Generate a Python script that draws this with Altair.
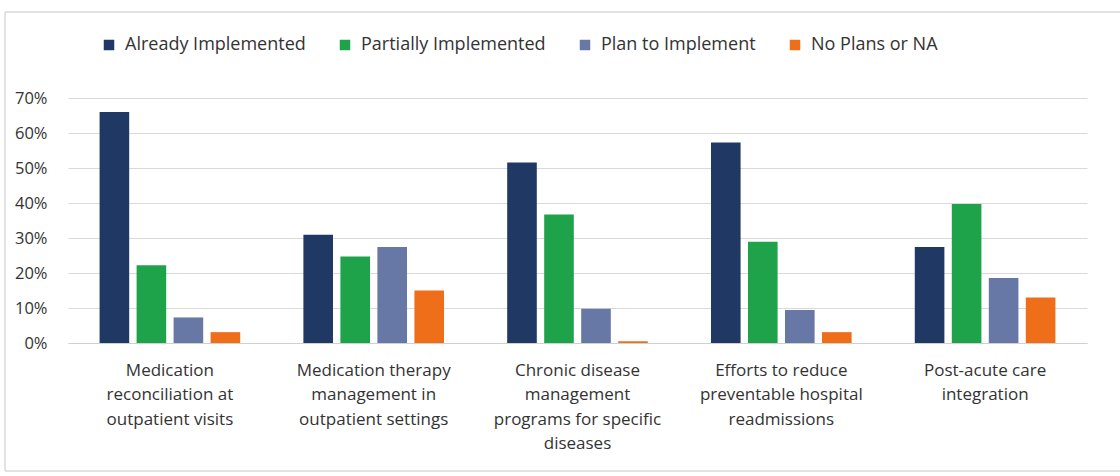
import altair as alt
import pandas as pd

# Survey categories (line breaks mark where the axis label wraps)
categories = [
    "Medication\nreconciliation at\noutpatient visits",
    "Medication therapy\nmanagement in\noutpatient settings",
    "Chronic disease\nmanagement\nprograms for specific\ndiseases",
    "Efforts to reduce\npreventable hospital\nreadmissions",
    "Post-acute care\nintegration",
]
statuses = ["Already Implemented", "Partially Implemented", "Plan to Implement", "No Plans or NA"]
colors = ["#1F3864", "#1FA34A", "#6777A6", "#EE6E1A"]

already = [0.660, 0.309, 0.516, 0.573, 0.274]
partial = [0.222, 0.247, 0.367, 0.289, 0.397]
plan = [0.073, 0.274, 0.098, 0.094, 0.186]
no_plans = [0.031, 0.150, 0.005, 0.031, 0.130]

rows = []
for series, name in zip([already, partial, plan, no_plans], statuses):
    for cat, v in zip(categories, series):
        rows.append({"category": cat, "status": name, "share": v})
df = pd.DataFrame(rows)

FONT = "Open Sans"
TEXT = "#333333"
FRAME = "#d9d9d9"

bars = alt.Chart(df).mark_bar().encode(
    x=alt.X(
        "category:N",
        sort=categories,
        title=None,
        scale=alt.Scale(paddingInner=0.31, paddingOuter=0.155),
        axis=alt.Axis(
            labelAngle=0,
            labelExpr="split(datum.label, '\\n')",
            labelFont=FONT,
            labelFontSize=17,
            labelColor=TEXT,
            labelLineHeight=24.5,
            labelPadding=19,
            labelBaseline="top",
            labelLimit=300,
            ticks=False,
            domainColor="#d0d0d0",
            domainWidth=1,
            grid=False,
        ),
    ),
    xOffset=alt.XOffset("status:N", sort=statuses, scale=alt.Scale(paddingInner=0.2, paddingOuter=0)),
    y=alt.Y(
        "share:Q",
        title=None,
        scale=alt.Scale(domain=[0, 0.7], nice=False),
        axis=alt.Axis(
            format=".0%",
            values=[0, 0.1, 0.2, 0.3, 0.4, 0.5, 0.6, 0.7],
            labelFont=FONT,
            labelFontSize=16.5,
            labelColor=TEXT,
            labelPadding=21,
            ticks=False,
            domain=False,
            gridColor="#d9d9d9",
            gridWidth=1,
        ),
    ),
    color=alt.Color(
        "status:N",
        sort=statuses,
        scale=alt.Scale(domain=statuses, range=colors),
        legend=alt.Legend(
            title=None,
            orient="none",
            direction="horizontal",
            legendX=32,
            legendY=-62,
            symbolType="square",
            symbolSize=110,
            symbolStrokeWidth=0,
            labelFont=FONT,
            labelFontSize=18,
            labelColor=TEXT,
            labelOffset=7,
            labelLimit=400,
            columnPadding=30,
            padding=0,
        ),
    ),
)

# Light frame around the figure: top, left and bottom edges
edge = alt.Chart(alt.Data(values=[{}])).mark_rule(color=FRAME, strokeWidth=1.5, clip=False)
top_edge = edge.encode(x=alt.value(-63), x2=alt.value(1060), y=alt.value(-86))
bottom_edge = edge.encode(x=alt.value(-63), x2=alt.value(1060), y=alt.value(373))
left_edge = edge.encode(x=alt.value(-63), y=alt.value(-86), y2=alt.value(373))

chart = alt.layer(top_edge, bottom_edge, left_edge, bars).properties(
    width=1019,
    height=245,
    background="white",
    autosize=alt.AutoSizeParams(type="none"),
    padding={"left": 68, "top": 98, "right": 33, "bottom": 133},
).configure_view(strokeWidth=0)

chart.save("out.html", embed_options={"renderer": "svg", "actions": False})
